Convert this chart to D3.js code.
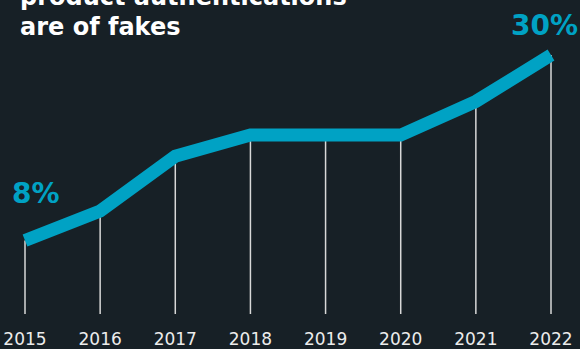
<!DOCTYPE html>
<html>
  <head>
    <meta charset="UTF-8" />
    <title>Fakes share</title>
    <script src="https://d3js.org/d3.v7.min.js"></script>
    <style>
      html, body { margin: 0; padding: 0; background: #172026; }
      svg { display: block; }
    </style>
  </head>
  <body>
    <div id="chart"></div>
    <script type="text/javascript">
    // data
    var years = ["2015", "2016", "2017", "2018", "2019", "2020", "2021", "2022"];
    var share = [8, 11.5, 18, 20.5, 20.5, 20.5, 24.5, 30];
    var titleLines = ["product authentications", "are of fakes"];
    var endLabels = ["8%", "30%"];

    var width = 580, height = 349;
    var teal = "#00a2c4";

    var svg = d3.select("#chart").append("svg")
      .attr("width", width)
      .attr("height", height);

    svg.append("rect")
      .attr("width", width)
      .attr("height", height)
      .attr("fill", "#172026");

    var x = d3.scalePoint().domain(years).range([25, 551]);
    var y = d3.scaleLinear().domain([8, 30]).range([240.5, 55]);
    var bottom = 314;

    var pts = years.map(function(d, i) { return { year: d, v: share[i] }; });

    // white drop lines
    svg.selectAll("line.drop")
      .data(pts)
      .enter().append("line")
      .attr("class", "drop")
      .attr("x1", function(d) { return x(d.year); })
      .attr("x2", function(d) { return x(d.year); })
      .attr("y1", function(d) { return y(d.v); })
      .attr("y2", bottom)
      .attr("stroke", "#d8d8d8")
      .attr("stroke-width", 1.5);

    var line = d3.line()
      .x(function(d) { return x(d.year); })
      .y(function(d) { return y(d.v); });

    svg.append("path")
      .datum(pts)
      .attr("d", line)
      .attr("fill", "none")
      .attr("stroke", teal)
      .attr("stroke-width", 13)
      .attr("stroke-linejoin", "miter")
      .attr("stroke-linecap", "butt");

    // year labels
    svg.selectAll("text.year")
      .data(years)
      .enter().append("text")
      .attr("class", "year")
      .attr("x", function(d) { return x(d); })
      .attr("y", 345)
      .attr("text-anchor", "middle")
      .attr("fill", "#ececec")
      .style("font-family", "DejaVu Sans, sans-serif")
      .style("font-size", "17px")
      .text(function(d) { return d; });

    // first / last value labels
    svg.append("text")
      .attr("x", 12)
      .attr("y", 203)
      .attr("fill", teal)
      .style("font-family", "DejaVu Sans, sans-serif")
      .style("font-weight", "bold")
      .style("font-size", "28px")
      .text(endLabels[0]);

    svg.append("text")
      .attr("x", 578)
      .attr("y", 35)
      .attr("text-anchor", "end")
      .attr("fill", teal)
      .style("font-family", "DejaVu Sans, sans-serif")
      .style("font-weight", "bold")
      .style("font-size", "28px")
      .text(endLabels[1]);

    // title (top line cut off by the frame)
    svg.selectAll("text.title")
      .data(titleLines)
      .enter().append("text")
      .attr("class", "title")
      .attr("x", 20)
      .attr("y", function(d, i) { return 5 + i * 30; })
      .attr("fill", "#ffffff")
      .style("font-family", "DejaVu Sans, sans-serif")
      .style("font-weight", "bold")
      .style("font-size", "24px")
      .text(function(d) { return d; });
    </script>
  </body>
</html>
